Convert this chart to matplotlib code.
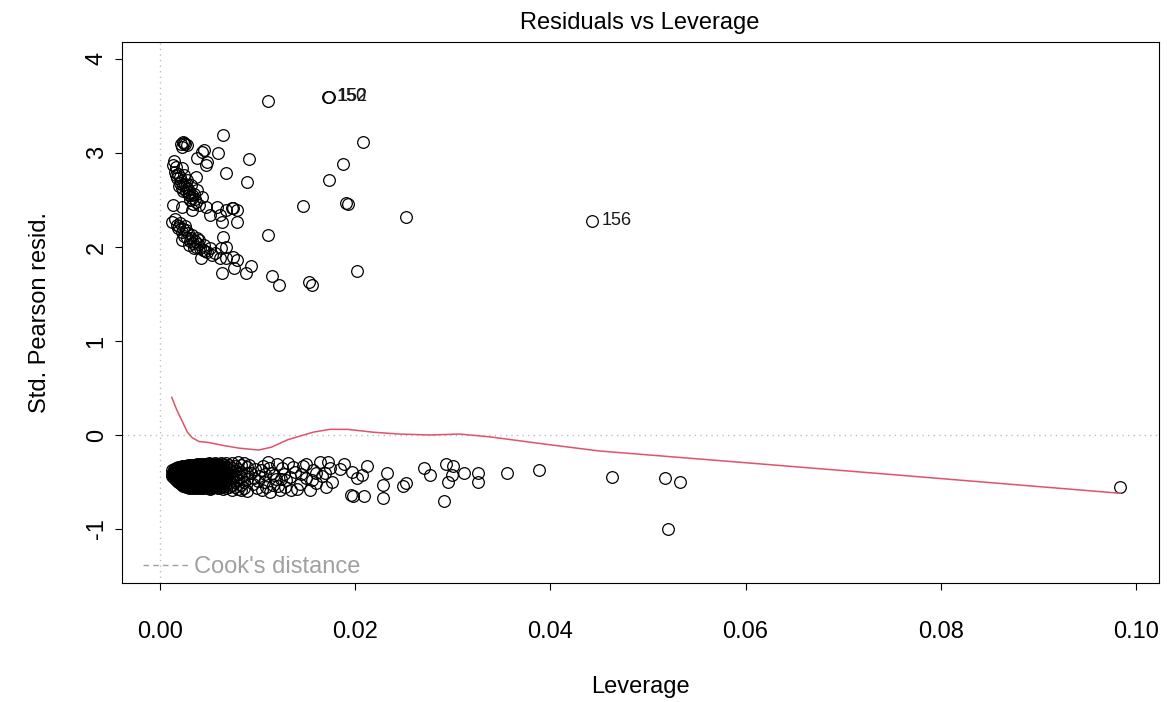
import numpy as np
import matplotlib
matplotlib.use('Agg')
import matplotlib.pyplot as plt
from matplotlib.lines import Line2D

plt.rcParams['font.family'] = ['Liberation Sans', 'DejaVu Sans']

""" datos: leverage y residuos de Pearson estandarizados """
# grupo superior (residuos positivos)
upper_lev = [0.0021, 0.0024, 0.0026, 0.0023, 0.0025, 0.0028,
             0.0038, 0.0043, 0.0045, 0.0048, 0.0047, 0.0059, 0.0065, 0.0068,
             0.0091, 0.0089, 0.0079, 0.0075,
             0.0013, 0.0015, 0.0017, 0.0020, 0.0023, 0.0027, 0.0030, 0.0033, 0.0037, 0.0040,
             0.0022, 0.0025, 0.0028, 0.0032, 0.0037, 0.0038, 0.0043,
             0.0014, 0.0016, 0.0019, 0.0021, 0.0024, 0.0026, 0.0029, 0.0031, 0.0035, 0.0034,
             0.0013, 0.0022, 0.0033, 0.0047, 0.0058, 0.0068, 0.0074, 0.0051, 0.0061, 0.0079,
             0.0012, 0.0017, 0.0020, 0.0027, 0.0033, 0.0040, 0.0045, 0.0051, 0.0023, 0.0030,
             0.0035, 0.0042, 0.0048, 0.0056, 0.0063, 0.0064, 0.0062, 0.0068, 0.0061, 0.0068,
             0.0075, 0.0079, 0.0063, 0.0076, 0.0088, 0.0093,
             0.0015, 0.0018, 0.0022, 0.0025, 0.0028, 0.0031, 0.0034, 0.0037, 0.0026, 0.0038,
             0.0044, 0.0053,
             0.0018, 0.0020, 0.0024, 0.0027, 0.0030, 0.0033, 0.0036, 0.0016,
             0.0019, 0.0024, 0.0029, 0.0032, 0.0036, 0.0039, 0.0041, 0.0046,
             0.0111, 0.0208, 0.0187, 0.0173, 0.0146, 0.0191, 0.0193, 0.0252, 0.0111,
             0.0115, 0.0122, 0.0153, 0.0156, 0.0202]
upper_res = [3.10, 3.12, 3.09, 3.06, 3.11, 3.08,
             2.95, 3.01, 3.03, 2.90, 2.87, 3.00, 3.19, 2.79,
             2.94, 2.69, 2.39, 2.41,
             2.87, 2.80, 2.73, 2.68, 2.63, 2.59, 2.55, 2.52, 2.48, 2.45,
             2.84, 2.77, 2.71, 2.66, 2.74, 2.61, 2.53,
             2.91, 2.76, 2.65, 2.70, 2.60, 2.67, 2.62, 2.50, 2.56, 2.46,
             2.45, 2.43, 2.39, 2.43, 2.43, 2.39, 2.41, 2.34, 2.34, 2.26,
             2.27, 2.23, 2.25, 2.18, 2.13, 2.07, 2.02, 1.99, 2.07, 2.02,
             1.99, 1.88, 1.95, 1.94, 2.27, 2.11, 1.99, 2.00, 1.88, 1.88,
             1.89, 1.86, 1.72, 1.78, 1.72, 1.80,
             2.30, 2.20, 2.16, 2.12, 2.09, 2.06, 2.04, 2.00, 2.22, 2.10,
             1.97, 1.91,
             2.78, 2.74, 2.66, 2.64, 2.58, 2.55, 2.51, 2.85,
             2.22, 2.19, 2.15, 2.09, 2.06, 2.03, 1.99, 1.96,
             3.55, 3.12, 2.88, 2.71, 2.44, 2.47, 2.46, 2.32, 2.13,
             1.69, 1.60, 1.63, 1.60, 1.74]

# grupo inferior denso, por columnas de leverage
blob_lev = [0.0012, 0.0014, 0.0016, 0.0018, 0.0020, 0.0023, 0.0026, 0.0029, 0.0032,
            0.0035, 0.0038, 0.0041, 0.0044, 0.0047, 0.0050, 0.0053, 0.0056, 0.0059,
            0.0062, 0.0065, 0.0068, 0.0071, 0.0074, 0.0077, 0.0080, 0.0083, 0.0086, 0.0089]
blob_res = [[-0.37, -0.41, -0.44],
            [-0.36, -0.39, -0.43, -0.46],
            [-0.35, -0.38, -0.42, -0.45, -0.48],
            [-0.34, -0.37, -0.41, -0.44, -0.47, -0.50],
            [-0.34, -0.37, -0.40, -0.43, -0.47, -0.51],
            [-0.33, -0.36, -0.40, -0.43, -0.46, -0.50, -0.53],
            [-0.33, -0.36, -0.39, -0.43, -0.46, -0.50, -0.53],
            [-0.32, -0.35, -0.39, -0.42, -0.46, -0.49, -0.53, -0.55],
            [-0.32, -0.35, -0.38, -0.42, -0.45, -0.49, -0.52, -0.55],
            [-0.32, -0.35, -0.38, -0.41, -0.45, -0.48, -0.52, -0.55],
            [-0.31, -0.34, -0.38, -0.41, -0.45, -0.48, -0.52, -0.55],
            [-0.31, -0.34, -0.37, -0.41, -0.44, -0.48, -0.51, -0.55],
            [-0.31, -0.35, -0.38, -0.42, -0.45, -0.49, -0.52, -0.56],
            [-0.31, -0.34, -0.37, -0.41, -0.44, -0.48, -0.51, -0.55],
            [-0.30, -0.34, -0.38, -0.41, -0.45, -0.49, -0.52, -0.56],
            [-0.31, -0.35, -0.38, -0.42, -0.46, -0.50, -0.53, -0.56],
            [-0.30, -0.34, -0.37, -0.41, -0.45, -0.48, -0.52, -0.55],
            [-0.31, -0.35, -0.39, -0.43, -0.47, -0.51, -0.56],
            [-0.30, -0.33, -0.37, -0.42, -0.46, -0.50, -0.54],
            [-0.31, -0.36, -0.40, -0.44, -0.49, -0.53, -0.57],
            [-0.30, -0.34, -0.39, -0.45, -0.48, -0.52, -0.56],
            [-0.32, -0.37, -0.41, -0.47, -0.51, -0.55],
            [-0.30, -0.35, -0.43, -0.46, -0.53, -0.58],
            [-0.33, -0.38, -0.44, -0.50, -0.55],
            [-0.29, -0.36, -0.41, -0.48, -0.57],
            [-0.32, -0.39, -0.45, -0.53, -0.59],
            [-0.30, -0.43, -0.50, -0.56],
            [-0.34, -0.40, -0.47, -0.60]]

# columnas intermedias del mismo grupo
blob2_lev = [0.0013, 0.0015, 0.0017, 0.0019, 0.0022, 0.0025, 0.0028, 0.0031, 0.0034, 0.0037,
             0.0040, 0.0043, 0.0046, 0.0049, 0.0052, 0.0055, 0.0058, 0.0061, 0.0064, 0.0067]
blob2_res = [[-0.39, -0.42],
             [-0.37, -0.41, -0.44],
             [-0.36, -0.40, -0.43, -0.47],
             [-0.35, -0.39, -0.42, -0.46, -0.49],
             [-0.35, -0.38, -0.42, -0.45, -0.48, -0.52],
             [-0.34, -0.38, -0.41, -0.45, -0.48, -0.52],
             [-0.34, -0.37, -0.41, -0.44, -0.48, -0.51, -0.54],
             [-0.33, -0.37, -0.40, -0.44, -0.47, -0.51, -0.54],
             [-0.33, -0.36, -0.40, -0.43, -0.47, -0.50, -0.54],
             [-0.33, -0.36, -0.40, -0.43, -0.47, -0.50, -0.54],
             [-0.32, -0.36, -0.39, -0.43, -0.46, -0.50, -0.53],
             [-0.32, -0.36, -0.39, -0.43, -0.46, -0.50, -0.54],
             [-0.33, -0.36, -0.40, -0.43, -0.47, -0.50, -0.54],
             [-0.32, -0.36, -0.39, -0.43, -0.47, -0.50, -0.54],
             [-0.33, -0.36, -0.40, -0.44, -0.48, -0.51, -0.55],
             [-0.32, -0.36, -0.39, -0.43, -0.47, -0.50, -0.54],
             [-0.33, -0.37, -0.41, -0.45, -0.49, -0.53],
             [-0.32, -0.35, -0.40, -0.44, -0.48, -0.52],
             [-0.34, -0.38, -0.42, -0.47, -0.51, -0.55],
             [-0.32, -0.37, -0.43, -0.50, -0.54]]

blob3_lev = [0.0015, 0.0018, 0.0021, 0.0024, 0.0027, 0.0030, 0.0033, 0.0036,
             0.0039, 0.0042, 0.0045, 0.0048, 0.0051, 0.0054, 0.0057, 0.0060]
blob3_res = [[-0.38, -0.43],
             [-0.36, -0.40, -0.45, -0.49],
             [-0.35, -0.39, -0.44, -0.49, -0.52],
             [-0.34, -0.38, -0.42, -0.47, -0.51, -0.54],
             [-0.34, -0.38, -0.42, -0.47, -0.50, -0.55],
             [-0.33, -0.37, -0.41, -0.45, -0.50, -0.54, -0.56],
             [-0.33, -0.37, -0.41, -0.45, -0.50, -0.53, -0.56],
             [-0.32, -0.37, -0.40, -0.44, -0.49, -0.53, -0.56],
             [-0.32, -0.36, -0.40, -0.44, -0.49, -0.53, -0.56],
             [-0.32, -0.36, -0.40, -0.44, -0.48, -0.52, -0.56],
             [-0.32, -0.36, -0.41, -0.44, -0.48, -0.53, -0.55],
             [-0.31, -0.35, -0.40, -0.44, -0.48, -0.52, -0.56],
             [-0.31, -0.35, -0.40, -0.45, -0.48, -0.53, -0.57],
             [-0.32, -0.36, -0.41, -0.45, -0.49, -0.54],
             [-0.31, -0.36, -0.40, -0.44, -0.49, -0.54],
             [-0.32, -0.37, -0.42, -0.47, -0.52, -0.56]]

# cola del grupo inferior
tail_lev = [0.0091, 0.0096, 0.0099, 0.0103, 0.0107, 0.0111, 0.0113, 0.0117, 0.0121, 0.0125,
            0.0129, 0.0131, 0.0134, 0.0138, 0.0143, 0.0147, 0.0150, 0.0154, 0.0157, 0.0160,
            0.0164, 0.0166, 0.0170, 0.0174,
            0.0093, 0.0095, 0.0101, 0.0105, 0.0109, 0.0115, 0.0119, 0.0123, 0.0127, 0.0133,
            0.0097, 0.0100, 0.0104, 0.0108, 0.0112, 0.0116, 0.0120, 0.0124, 0.0128, 0.0136,
            0.0140, 0.0144, 0.0150, 0.0156, 0.0160,
            0.0172, 0.0169, 0.0176, 0.0184, 0.0189, 0.0197, 0.0202, 0.0207, 0.0212, 0.0196,
            0.0198, 0.0209, 0.0228, 0.0228, 0.0233, 0.0249, 0.0252, 0.0270, 0.0277, 0.0293,
            0.0300, 0.0299, 0.0295, 0.0291, 0.0311, 0.0326, 0.0326, 0.0356, 0.0388,
            0.0463, 0.0517, 0.0533, 0.0521, 0.0984]
tail_res = [-0.32, -0.46, -0.56, -0.37, -0.50, -0.29, -0.61, -0.43, -0.54, -0.35,
            -0.48, -0.30, -0.59, -0.39, -0.52, -0.33, -0.46, -0.59, -0.37, -0.51,
            -0.29, -0.44, -0.55, -0.35,
            -0.40, -0.52, -0.44, -0.33, -0.55, -0.40, -0.47, -0.58, -0.42, -0.45,
            -0.36, -0.49, -0.58, -0.41, -0.35, -0.53, -0.31, -0.47, -0.55, -0.34,
            -0.57, -0.42, -0.31, -0.48, -0.40,
            -0.29, -0.40, -0.50, -0.36, -0.31, -0.39, -0.46, -0.43, -0.33, -0.64,
            -0.65, -0.65, -0.53, -0.67, -0.40, -0.54, -0.51, -0.35, -0.43, -0.31,
            -0.33, -0.43, -0.50, -0.70, -0.40, -0.40, -0.50, -0.40, -0.37,
            -0.45, -0.46, -0.50, -1.00, -0.55]

# observaciones identificadas
id_lev = [0.0172, 0.0173, 0.0443]
id_res = [3.60, 3.60, 2.28]
id_lab = ['150', '152', '156']

# curva suavizada (lowess)
smooth_lev = [0.0012, 0.0017, 0.0023, 0.0028, 0.0033, 0.0040, 0.0050, 0.0064, 0.0081,
              0.0101, 0.0114, 0.0131, 0.0157, 0.0174, 0.0192, 0.0218, 0.0245, 0.0277,
              0.0307, 0.0338, 0.0389, 0.0450, 0.0594, 0.0737, 0.0984]
smooth_res = [0.40, 0.27, 0.14, 0.03, -0.03, -0.07, -0.08, -0.11, -0.14,
              -0.16, -0.13, -0.05, 0.03, 0.06, 0.06, 0.03, 0.01, 0.00,
              0.01, -0.02, -0.09, -0.17, -0.29, -0.41, -0.62]

x_ticks = [0.00, 0.02, 0.04, 0.06, 0.08, 0.10]
y_ticks = [-1, 0, 1, 2, 3, 4]

""" armado de los puntos """
def columnas(xs, rs):
    return (np.concatenate([[x] * len(r) for x, r in zip(xs, rs)]),
            np.concatenate(rs))

b1x, b1y = columnas(blob_lev, blob_res)
b2x, b2y = columnas(blob2_lev, blob2_res)
b3x, b3y = columnas(blob3_lev, blob3_res)
lev = np.concatenate([b1x, b2x, b3x, tail_lev, upper_lev, id_lev])
res = np.concatenate([b1y, b2y, b3y, tail_res, upper_res, id_res])

""" graficar """
fs = 17
fig = plt.figure(figsize=(11.67, 7.02), dpi=100)
ax = fig.add_axes([0.1042, 0.1701, 0.8887, 0.7701])

ax.axhline(0, color='#BEBEBE', ls=(0, (1, 3)), lw=1)
ax.axvline(0, color='#BEBEBE', ls=(0, (1, 3)), lw=1)
ax.plot(lev, res, ls='none', marker='o', ms=8.4, mfc='none', mec='black', mew=0.9)
ax.plot(smooth_lev, smooth_res, color='#DF536B', lw=1.1)

for x, y, lab in zip(id_lev, id_res, id_lab):
    ax.annotate(lab, (x, y), xytext=(6.5, 0), textcoords='offset points',
                ha='left', va='center', fontsize=13, color='#1a1a1a')

ax.set_xlim(-0.00394, 0.10234)
ax.set_ylim(-1.57, 4.18)
ax.set_xticks(x_ticks, [f'{t:.2f}' for t in x_ticks])
ax.set_yticks(y_ticks, [str(t) for t in y_ticks], rotation=90, va='center')
ax.tick_params(direction='out', length=5, width=0.8, labelsize=fs)
ax.tick_params(axis='x', pad=23)
ax.tick_params(axis='y', pad=5)
for s in ax.spines.values():
    s.set_linewidth(0.8)

ax.set_title('Residuals vs Leverage', fontsize=fs, pad=9)
ax.set_xlabel('Leverage', fontsize=fs, va='top')
ax.xaxis.set_label_coords(0.5, -0.173)
ax.set_ylabel('Std. Pearson resid.', fontsize=fs, va='center')
ax.yaxis.set_label_coords(-0.0787, 0.5)

cook = Line2D([], [], color='#A0A0A0', ls=(0, (4, 3)), lw=1)
ax.legend([cook], ["Cook's distance"], loc='center left', bbox_to_anchor=(0.0206, 0.0289),
          frameon=False, fontsize=fs, labelcolor='#A0A0A0', handlelength=1.9,
          handletextpad=0.25, borderpad=0, borderaxespad=0)

plt.savefig('out.png', dpi=100)
